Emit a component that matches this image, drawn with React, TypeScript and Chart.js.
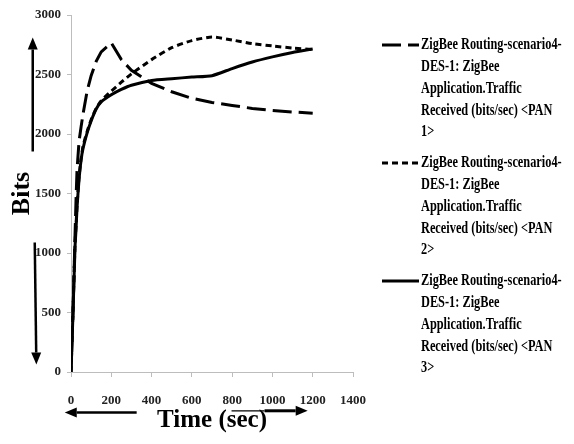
import React, { useEffect, useRef } from 'react';
import { Chart, registerables } from 'chart.js';

Chart.register(...registerables);

// ---- data ----
const TIME = [0, 10, 20, 25, 30, 40, 50, 60, 80, 100, 125, 150, 200, 250, 300, 400, 500, 600, 700, 800, 900, 1000, 1100, 1200];
const PAN1 = [0, 500, 1150, 1450, 1700, 1940, 2060, 2170, 2360, 2490, 2610, 2690, 2765, 2625, 2535, 2425, 2355, 2300, 2265, 2240, 2215, 2198, 2185, 2175];
const PAN2 = [0, 520, 1080, 1230, 1400, 1640, 1790, 1900, 2020, 2120, 2215, 2280, 2360, 2435, 2505, 2625, 2725, 2785, 2815, 2790, 2760, 2740, 2722, 2710];
const PAN3 = [0, 500, 1050, 1200, 1380, 1620, 1780, 1880, 2010, 2110, 2210, 2270, 2330, 2375, 2410, 2450, 2465, 2478, 2490, 2550, 2605, 2648, 2685, 2715];

const SERIES_LABELS = [
  'ZigBee Routing-scenario4-DES-1: ZigBee Application.Traffic Received (bits/sec) <PAN 1>',
  'ZigBee Routing-scenario4-DES-1: ZigBee Application.Traffic Received (bits/sec) <PAN 2>',
  'ZigBee Routing-scenario4-DES-1: ZigBee Application.Traffic Received (bits/sec) <PAN 3>',
];
const LEGEND_LINES_1 = ['ZigBee Routing-scenario4-', 'DES-1: ZigBee', 'Application.Traffic', 'Received (bits/sec) <PAN', '1>'];
const LEGEND_LINES_2 = ['ZigBee Routing-scenario4-', 'DES-1: ZigBee', 'Application.Traffic', 'Received (bits/sec) <PAN', '2>'];
const LEGEND_LINES_3 = ['ZigBee Routing-scenario4-', 'DES-1: ZigBee', 'Application.Traffic', 'Received (bits/sec) <PAN', '3>'];

const X_TITLE = 'Time (sec)';
const Y_TITLE = 'Bits';

// arrow annotations, in data units [x1, y1, x2, y2]
const ARROW_UP = [-190, 1853, -190, 2811];
const ARROW_DOWN = [-180, 1088, -172, 63];
const ARROW_LEFT = [326, -340, -31, -340];
const ARROW_RIGHT_THIN = [797, -326, 961, -326];
const ARROW_RIGHT = [961, -326, 1175, -326];

const FONT = '"Liberation Serif", "Times New Roman", serif';
const AXIS_GRAY = '#bdbdbd';

const sideLegend = {
  id: 'sideLegend',
  afterDraw(chart: any) {
    const { ctx, chartArea } = chart;
    const groups = [LEGEND_LINES_1, LEGEND_LINES_2, LEGEND_LINES_3];
    const sx = chartArea.right + 29;
    const ex = chartArea.right + 66;
    const tx = chartArea.right + 68;
    const lineH = 21.8;
    const step = 118;
    ctx.save();
    ctx.font = `bold 16px ${FONT}`;
    ctx.fillStyle = '#000';
    ctx.textBaseline = 'middle';
    ctx.textAlign = 'left';
    groups.forEach((lines, i) => {
      const ds = chart.data.datasets[i];
      const y0 = chartArea.top + 30 + i * step;
      ctx.save();
      ctx.strokeStyle = ds.borderColor;
      ctx.lineWidth = ds.borderWidth;
      ctx.setLineDash(ds.borderDash || []);
      ctx.beginPath();
      ctx.moveTo(sx, y0);
      ctx.lineTo(ex, y0);
      ctx.stroke();
      ctx.restore();
      lines.forEach((ln, j) => {
        ctx.save();
        ctx.translate(tx, y0 + j * lineH);
        ctx.scale(0.77, 1);
        ctx.fillText(ln, 0, 0);
        ctx.restore();
      });
    });
    ctx.restore();
  },
};

function drawArrow(ctx: any, xs: any, ys: any, a: number[], width: number, head: boolean) {
  const x1 = xs.getPixelForValue(a[0]);
  const y1 = ys.getPixelForValue(a[1]);
  const x2 = xs.getPixelForValue(a[2]);
  const y2 = ys.getPixelForValue(a[3]);
  const ang = Math.atan2(y2 - y1, x2 - x1);
  const hl = 12;
  const hw = 5;
  const bx = x2 - hl * Math.cos(ang);
  const by = y2 - hl * Math.sin(ang);
  ctx.beginPath();
  ctx.lineWidth = width;
  ctx.moveTo(x1, y1);
  ctx.lineTo(head ? bx : x2, head ? by : y2);
  ctx.stroke();
  if (head) {
    ctx.beginPath();
    ctx.moveTo(x2, y2);
    ctx.lineTo(bx + hw * Math.sin(ang), by - hw * Math.cos(ang));
    ctx.lineTo(bx - hw * Math.sin(ang), by + hw * Math.cos(ang));
    ctx.closePath();
    ctx.fill();
  }
}

const arrows = {
  id: 'arrows',
  afterDraw(chart: any) {
    const { ctx } = chart;
    const xs = chart.scales.x;
    const ys = chart.scales.y;
    ctx.save();
    ctx.strokeStyle = '#000';
    ctx.fillStyle = '#000';
    ctx.setLineDash([]);
    drawArrow(ctx, xs, ys, ARROW_UP, 2.5, true);
    drawArrow(ctx, xs, ys, ARROW_DOWN, 2.5, true);
    drawArrow(ctx, xs, ys, ARROW_LEFT, 2.5, true);
    drawArrow(ctx, xs, ys, ARROW_RIGHT_THIN, 1.2, false);
    drawArrow(ctx, xs, ys, ARROW_RIGHT, 3, true);
    ctx.restore();
  },
};

export default function App() {
  const ref = useRef<HTMLCanvasElement>(null);
  useEffect(() => {
    if (!ref.current) return;
    const mk = (vals: number[]) => TIME.map((t, i) => ({ x: t, y: vals[i] }));
    const plain = (v: any) => String(v);
    const chart = new Chart(ref.current, {
      type: 'line',
      data: {
        datasets: [
          { label: SERIES_LABELS[0], data: mk(PAN1), borderColor: '#000', borderWidth: 3, borderDash: [19, 7], pointRadius: 0, tension: 0, fill: false },
          { label: SERIES_LABELS[1], data: mk(PAN2), borderColor: '#000', borderWidth: 3, borderDash: [6, 4], pointRadius: 0, tension: 0.2, fill: false },
          { label: SERIES_LABELS[2], data: mk(PAN3), borderColor: '#000', borderWidth: 3, pointRadius: 0, tension: 0.2, fill: false },
        ],
      },
      options: {
        responsive: false,
        animation: false,
        devicePixelRatio: 1,
        layout: { padding: { top: 15, right: 221, bottom: 0, left: 0 } },
        plugins: { legend: { display: false }, tooltip: { enabled: false }, title: { display: false } },
        scales: {
          x: {
            type: 'linear',
            min: 0,
            max: 1400,
            ticks: { stepSize: 200, padding: 16, color: '#222', callback: plain, font: { family: FONT, size: 13, weight: 'bold' }, maxRotation: 0 },
            grid: { drawOnChartArea: false, drawTicks: true, tickLength: 5, color: AXIS_GRAY },
            border: { color: AXIS_GRAY, width: 1 },
            title: { display: true, text: X_TITLE, color: '#000', font: { family: FONT, size: 25, weight: 'bold' }, padding: { top: 0, bottom: 8 } },
            afterFit: (s: any) => { s.height = 72; },
          },
          y: {
            min: 0,
            max: 3000,
            ticks: { stepSize: 500, padding: 6, color: '#222', callback: plain, font: { family: FONT, size: 13, weight: 'bold' } },
            grid: { drawOnChartArea: false, drawTicks: true, tickLength: 4, color: AXIS_GRAY },
            border: { color: AXIS_GRAY, width: 1 },
            title: { display: true, text: Y_TITLE, color: '#000', font: { family: FONT, size: 26, weight: 'bold' }, padding: { top: 7, bottom: 0 } },
            afterFit: (s: any) => { s.width = 71; },
          },
        },
      },
      plugins: [sideLegend, arrows],
    } as any);
    return () => chart.destroy();
  }, []);
  return (
    <div style={{ position: 'fixed', left: 0, top: 0, width: 574, height: 444, background: '#fff' }}>
      <canvas ref={ref} width={574} height={444} style={{ display: 'block' }} />
    </div>
  );
}
